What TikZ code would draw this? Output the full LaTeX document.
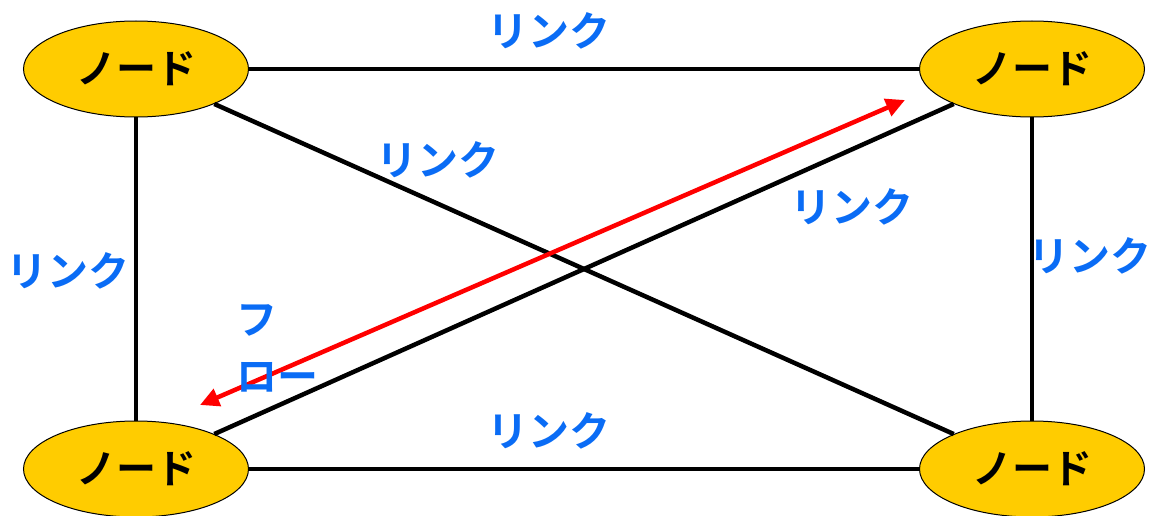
\documentclass[tikz,border=0pt]{standalone}
\usepackage{fontspec}
\usepackage{tikz}
\usetikzlibrary{shapes.geometric,arrows.meta}
\newfontfamily\jpfont{Noto Sans CJK JP}[BoldFont={Noto Sans CJK JP Bold}]
\definecolor{nodeyellow}{HTML}{FFCC00}
\definecolor{linkblue}{HTML}{0A6CF5}
\definecolor{flowred}{HTML}{FF0000}

\tikzset{
  netnode/.style={ellipse, draw=black, line width=1pt, fill=nodeyellow,
    minimum width=225pt, minimum height=96pt, inner sep=0pt,
    font=\jpfont\bfseries\fontsize{40}{44}\selectfont},
  link/.style={line width=4.5pt, black},
  linklabel/.style={text=linkblue, inner sep=0pt,
    font=\jpfont\bfseries\fontsize{41}{44}\selectfont}
}

\begin{document}
\begin{tikzpicture}[x=1pt, y=-1pt]
  \useasboundingbox (0,0) rectangle (1150,516);
  % nodes
  \node[netnode] (tl) at (136,69) {ノード};
  \node[netnode] (tr) at (1032,69) {ノード};
  \node[netnode] (bl) at (136,469) {ノード};
  \node[netnode] (br) at (1032,469) {ノード};
  % links
  \draw[link] (tl) -- (tr);
  \draw[link] (bl) -- (br);
  \draw[link] (tl) -- (bl);
  \draw[link] (tr) -- (br);
  \draw[link] (tl) -- (br);
  \draw[link] (bl) -- (tr);
  % flow
  \coordinate (flowa) at (200,405);
  \coordinate (flowb) at (905,100);
  \draw[flowred, line width=4.5pt, {Triangle[length=19pt,width=18pt]}-{Triangle[length=19pt,width=18pt]}] (flowa) -- (flowb);
  % labels
  \node[linklabel] (ltop) at (549,31) {リンク};
  \node[linklabel] (ldiag1) at (438,160) {リンク};
  \node[linklabel] (ldiag2) at (852,207) {リンク};
  \node[linklabel] (lleft) at (68,271) {リンク};
  \node[linklabel] (lright) at (1090,256) {リンク};
  \node[linklabel] (lbottom) at (549,431) {リンク};
  \node[linklabel, anchor=west, align=left,
    font=\jpfont\bfseries\fontsize{41}{57}\selectfont] (flowlabel) at (236,348) {フ\\ロー};
\end{tikzpicture}
\end{document}
